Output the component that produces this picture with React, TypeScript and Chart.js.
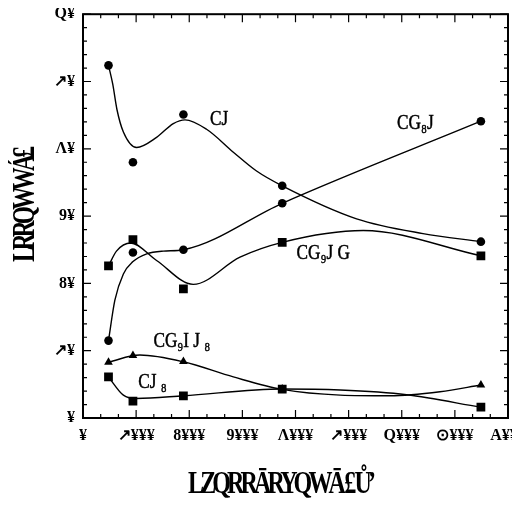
import React, { useEffect, useRef } from "react";
import { Chart, registerables } from "chart.js";

Chart.register(...registerables);

// Sampling positions shared by every series
const sampleX = [480, 940, 1890, 3750, 7490];

// Measured values per series
const cjY = [52.4, 38.0, 45.1, 34.5, 26.2];
const cg8jY = [11.5, 24.6, 25.0, 31.9, 44.1];
const cg9jgY = [22.6, 26.5, 19.2, 26.1, 24.1];
const cg9ij8Y = [8.3, 9.3, 8.4, 4.3, 4.9];
const cj8Y = [6.1, 2.5, 3.3, 4.3, 1.6];

// Smoothed trend lines
const cjFitX = [480, 560, 640, 760, 1010, 1385, 1700, 1920, 2326, 2830, 3267, 3750, 5150, 6400, 7490];
const cjFitY = [52.4, 49.6, 45.8, 42.5, 40.2, 41.7, 43.75, 44.3, 42.9, 39.5, 36.7, 34.5, 29.6, 27.4, 26.2];

const cg8jFitX = [480, 600, 760, 935, 1200, 1510, 1890, 3750, 7490];
const cg8jFitY = [11.5, 17.5, 21.4, 23.2, 24.4, 24.8, 25.0, 31.9, 44.1];

const cg9jgFitX = [480, 630, 900, 1385, 2075, 2955, 3750, 5275, 7490];
const cg9jgFitY = [22.6, 24.8, 26.0, 23.4, 19.85, 23.9, 26.1, 27.85, 24.1];

const cg9ij8FitX = [480, 1070, 1890, 2830, 3750, 4840, 5780, 6720, 7490];
const cg9ij8FitY = [8.3, 9.35, 8.35, 6.1, 4.25, 3.4, 3.3, 3.9, 4.9];

const cj8FitX = [480, 760, 1010, 1890, 3750, 4840, 6090, 7490];
const cj8FitY = [6.1, 3.4, 2.9, 3.3, 4.3, 4.15, 3.45, 1.6];

// Axis tick labels
const xTickLabels = ["¥", "↗¥¥¥", "8¥¥¥", "9¥¥¥", "Λ¥¥¥", "↗¥¥¥", "Q¥¥¥", "⊙¥¥¥", "A¥¥¥"];
const yTickLabels = ["¥", "↗¥", "8¥", "9¥", "Λ¥", "↗¥", "Q¥"];

const xTitle = "LZQRRĀRYQWĀ £ Ů’";
const yTitle = "LRRQWWÁ£";

// Curve names, anchored (left, middle) in data units
const curveTags = [
  { text: "CJ", x: 2390, y: 44.3 },
  { text: "CG₈J", x: 5910, y: 43.7 },
  { text: "CG₉J G", x: 4020, y: 24.4 },
  { text: "CG₉I J ₈", x: 1325, y: 11.3 },
  { text: "CJ ₈", x: 1040, y: 5.3 },
];

const pts = (xs: number[], ys: number[]) => xs.map((x, i) => ({ x, y: ys[i] }));

const markerSet = (ys: number[], style: string, radius: number) => ({
  data: pts(sampleX, ys),
  showLine: false,
  pointStyle: style,
  pointRadius: radius,
  pointBackgroundColor: "#000",
  pointBorderColor: "#000",
  pointBorderWidth: 0,
});

const curveSet = (xs: number[], ys: number[]) => ({
  data: pts(xs, ys),
  showLine: true,
  pointRadius: 0,
  borderColor: "#000",
  borderWidth: 1.4,
  cubicInterpolationMode: "monotone",
  fill: false,
});

// draws text squeezed horizontally to a given width, centred on (cx, cy)
const fitText = (ctx: CanvasRenderingContext2D, text: string, cx: number, cy: number, width: number) => {
  const w = ctx.measureText(text).width;
  ctx.save();
  ctx.translate(cx, cy);
  ctx.scale(width / w, 1);
  ctx.fillText(text, 0, 0);
  ctx.restore();
};

const decorations = {
  id: "decorations",
  afterDraw(chart: any) {
    const { ctx, chartArea: a, scales } = chart;
    const x = scales.x;
    const y = scales.y;
    ctx.save();
    ctx.strokeStyle = "#000";

    // inward ticks on all four sides
    ctx.lineWidth = 1.2;
    ctx.beginPath();
    for (let i = 0; i <= 24; i++) {
      const px = x.getPixelForValue((i * 1000) / 3);
      const len = i % 3 === 0 ? 8 : 4;
      ctx.moveTo(px, a.bottom);
      ctx.lineTo(px, a.bottom - len);
      ctx.moveTo(px, a.top);
      ctx.lineTo(px, a.top + len);
    }
    for (let i = 0; i <= 30; i++) {
      const py = y.getPixelForValue(i * 2);
      const len = i % 5 === 0 ? 8 : 4;
      ctx.moveTo(a.left, py);
      ctx.lineTo(a.left + len, py);
      ctx.moveTo(a.right, py);
      ctx.lineTo(a.right - len, py);
    }
    ctx.stroke();

    // frame
    ctx.lineWidth = 2;
    ctx.strokeRect(a.left, a.top, a.right - a.left, a.bottom - a.top);

    // curve names
    ctx.fillStyle = "#000";
    ctx.lineWidth = 0.5;
    ctx.font = '21px "Liberation Serif"';
    ctx.textAlign = "left";
    ctx.textBaseline = "middle";
    for (const t of curveTags) {
      const px = x.getPixelForValue(t.x);
      const py = y.getPixelForValue(t.y);
      ctx.save();
      ctx.translate(px, py);
      ctx.scale(0.82, 1);
      ctx.fillText(t.text, 0, 0);
      ctx.strokeText(t.text, 0, 0);
      ctx.restore();
    }

    // axis titles
    ctx.font = 'bold 31px "Liberation Serif"';
    ctx.textAlign = "center";
    (ctx as any).letterSpacing = "-5px";
    fitText(ctx, xTitle, 272, 477, 184);
    ctx.translate(18, 198);
    ctx.rotate(-Math.PI / 2);
    fitText(ctx, yTitle, 0, 0, 112);
    ctx.restore();
  },
};

export default function App() {
  const ref = useRef<HTMLCanvasElement>(null);

  useEffect(() => {
    const chart = new Chart(ref.current!, {
      type: "scatter",
      data: {
        datasets: [
          curveSet(cjFitX, cjFitY),
          curveSet(cg8jFitX, cg8jFitY),
          curveSet(cg9jgFitX, cg9jgFitY),
          curveSet(cg9ij8FitX, cg9ij8FitY),
          curveSet(cj8FitX, cj8FitY),
          markerSet(cjY, "circle", 4.3),
          markerSet(cg8jY, "circle", 4.3),
          markerSet(cg9jgY, "rect", 6.2),
          markerSet(cg9ij8Y, "triangle", 5),
          markerSet(cj8Y, "rect", 6.2),
        ] as any,
      },
      options: {
        animation: false,
        responsive: false,
        layout: { padding: { top: 5, right: 12, left: 0, bottom: 0 } },
        plugins: { legend: { display: false }, tooltip: { enabled: false } },
        scales: {
          x: {
            type: "linear",
            min: 0,
            max: 8000,
            grid: { display: false, drawTicks: false },
            border: { display: false },
            ticks: {
              stepSize: 1000,
              padding: 8,
              color: "#000",
              maxRotation: 0,
              autoSkip: false,
              font: { family: '"Liberation Serif"', size: 16, weight: "bold" },
              callback: (v: any) => xTickLabels[Math.round(Number(v) / 1000)] ?? "",
            },
            afterFit: (s: any) => {
              s.height = 91;
              s.paddingLeft = 0;
              s.paddingRight = 0;
            },
          },
          y: {
            type: "linear",
            min: 0,
            max: 60,
            grid: { display: false, drawTicks: false },
            border: { display: false },
            ticks: {
              stepSize: 10,
              padding: 8,
              color: "#000",
              font: { family: '"Liberation Serif"', size: 16, weight: "bold" },
              callback: (v: any) => yTickLabels[Math.round(Number(v) / 10)] ?? "",
            },
            afterFit: (s: any) => {
              s.width = 75;
              s.paddingTop = 0;
              s.paddingBottom = 0;
            },
          },
        },
      },
      plugins: [decorations],
    });
    return () => chart.destroy();
  }, []);

  return (
    <div style={{ width: 512, height: 501 }}>
      <canvas ref={ref} width={512} height={501} />
    </div>
  );
}
